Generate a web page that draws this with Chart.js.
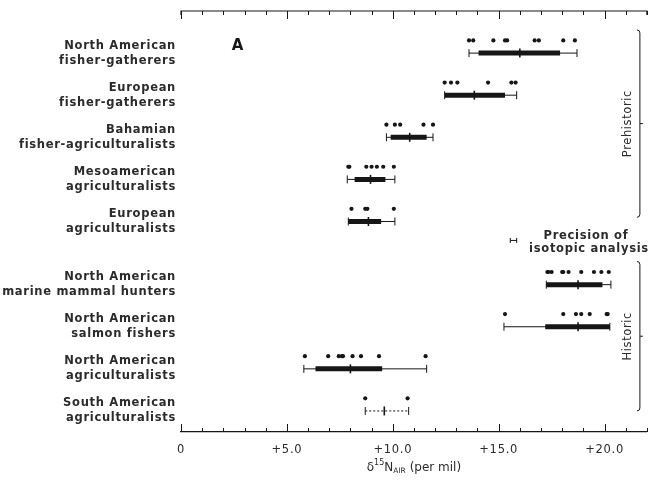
<!DOCTYPE html>
<html>
<head>
<meta charset="utf-8">
<script src="https://cdn.jsdelivr.net/npm/chart.js@4"></script>
<style>
  html, body { margin: 0; padding: 0; background: #fff; overflow: hidden; }
  /* a little wider than the page: the layout keeps a few px of slack on the right */
  #wrap { width: 653px; height: 484px; position: relative; }
  canvas { display: block; }
</style>
</head>
<body>
<div id="wrap"><canvas id="isoChart"></canvas></div>
<script>
// ---------------------------------------------------------------- data section
var groups = [
    ['North American', 'fisher-gatherers'],
    ['European', 'fisher-gatherers'],
    ['Bahamian', 'fisher-agriculturalists'],
    ['Mesoamerican', 'agriculturalists'],
    ['European', 'agriculturalists'],
    ['North American', 'marine mammal hunters'],
    ['North American', 'salmon fishers'],
    ['North American', 'agriculturalists'],
    ['South American', 'agriculturalists']
];
// individual measurements (dots above each bar)
var individuals = [
    [13.6, 13.8, 14.75, 15.3, 15.4, 16.7, 16.9, 18.05, 18.6],
    [12.45, 12.75, 13.05, 14.5, 15.6, 15.8],
    [9.7, 10.1, 10.35, 11.45, 11.9],
    [7.9, 7.95, 8.75, 9.0, 9.25, 9.55, 10.05],
    [8.05, 8.7, 8.8, 10.05],
    [17.3, 17.35, 17.5, 18.0, 18.05, 18.3, 18.9, 19.5, 19.85, 20.2],
    [15.3, 18.05, 18.65, 18.9, 19.3, 20.1, 20.15],
    [5.85, 6.95, 7.45, 7.6, 7.65, 8.1, 8.5, 9.35, 11.55],
    [8.7, 10.7]
];
var rangeLow  = [13.6, 12.45, 9.7, 7.85, 7.9, 17.25, 15.25, 5.8, 8.7];
var rangeHigh = [18.7, 15.85, 11.9, 10.1, 10.1, 20.3, 20.25, 11.6, 10.75];
var boxLow    = [14.05, 12.45, 9.9, 8.2, 7.9, 17.25, 17.2, 6.35, null];
var boxHigh   = [17.9, 15.3, 11.6, 9.65, 9.45, 19.9, 20.25, 9.5, null];
var means     = [16.0, 13.85, 10.8, 8.95, 8.85, 18.75, 18.75, 8.0, 9.6];

var periods = ['Prehistoric', 'Historic'];
var precision = [15.55, 15.85];   // analytical precision bar

var xTickLabels = ['0', '+5.0', '+10.0', '+15.0', '+20.0'];

// ---------------------------------------------------------------- helpers
var INK = '#161616';
var TEXT = '#2b2b2b';
var FONT = "'DejaVu Sans', sans-serif";

// rows of the historic block sit half a row lower than the prehistoric ones
function rowAt(i) { return i < 5 ? i : i + 0.5; }
var DOT_OFFSET = 0.3;

function segments(lows, highs, keep) {
    var out = [];
    for (var i = 0; i < lows.length; i++) {
        if (lows[i] == null || !keep(i)) continue;
        out.push({x: lows[i], y: rowAt(i)}, {x: highs[i], y: rowAt(i)}, {x: null, y: null});
    }
    return out;
}

var whiskerSolid = segments(rangeLow, rangeHigh, function (i) { return boxLow[i] != null; });
var whiskerDotted = segments(rangeLow, rangeHigh, function (i) { return boxLow[i] == null; });
var boxes = segments(boxLow, boxHigh, function () { return true; });

var caps = [];
var meanPts = [];
var dots = [];
for (var i = 0; i < groups.length; i++) {
    caps.push({x: rangeLow[i], y: rowAt(i)}, {x: rangeHigh[i], y: rowAt(i)});
    meanPts.push({x: means[i], y: rowAt(i)});
    individuals[i].forEach(function (v) { dots.push({x: v, y: rowAt(i) - DOT_OFFSET}); });
}
var precRow = 4.45;
var precLine = [{x: precision[0], y: precRow}, {x: precision[1], y: precRow}];

// ---------------------------------------------------------------- decorations
const frame = {
    id: 'frame',
    beforeDraw(chart) {
        chart.ctx.letterSpacing = '0.7px';
    },
    afterDraw(chart) {
        const ctx = chart.ctx;
        const a = chart.chartArea;
        const xs = chart.scales.x;
        const ys = chart.scales.y;
        ctx.save();
        ctx.letterSpacing = '0px';
        ctx.strokeStyle = INK;
        ctx.lineWidth = 1.2;

        // top axis line with turned-down ends
        ctx.beginPath();
        ctx.moveTo(a.left, a.top + 4);
        ctx.lineTo(a.left, a.top);
        ctx.lineTo(a.right, a.top);
        ctx.lineTo(a.right, a.top + 4);
        ctx.stroke();

        // inward ticks on both axes
        ctx.lineWidth = 1;
        for (let v = 0; v <= 22; v++) {
            const px = Math.round(xs.getPixelForValue(v)) + 0.5;
            const len = v % 5 === 0 ? 8 : 4;
            ctx.beginPath();
            ctx.moveTo(px, a.bottom);
            ctx.lineTo(px, a.bottom - len);
            ctx.moveTo(px, a.top);
            ctx.lineTo(px, a.top + len);
            ctx.stroke();
        }

        // axis title: delta 15 N sub AIR (per mil)
        const parts = [
            {t: '\u03B4', f: '12px ', dy: 0},
            {t: '15', f: '8px ', dy: -5},
            {t: 'N', f: '12px ', dy: 0},
            {t: 'AIR', f: '7.5px ', dy: 3},
            {t: ' (per mil)', f: '12px ', dy: 0}
        ];
        let w = 0;
        parts.forEach(p => { ctx.font = p.f + FONT; p.w = ctx.measureText(p.t).width; w += p.w; });
        let tx = (a.left + a.right) / 2 - w / 2;
        const ty = 468;
        ctx.fillStyle = TEXT;
        ctx.textBaseline = 'middle';
        ctx.textAlign = 'left';
        parts.forEach(p => { ctx.font = p.f + FONT; ctx.fillText(p.t, tx, ty + p.dy); tx += p.w; });

        // panel letter
        ctx.font = 'bold 15px ' + FONT;
        ctx.fillStyle = INK;
        ctx.fillText('A', xs.getPixelForValue(2.4), 46);

        // period brackets on the right
        const bx = a.right - 7;
        const spans = [[-0.55, 3.9], [4.95, 8.5]];
        ctx.lineWidth = 1;
        spans.forEach((s, k) => {
            const y0 = ys.getPixelForValue(s[0]);
            const y1 = ys.getPixelForValue(s[1]);
            const ym = (y0 + y1) / 2;
            ctx.beginPath();
            ctx.moveTo(bx - 3, y0);
            ctx.quadraticCurveTo(bx, y0, bx, y0 + 3);
            ctx.lineTo(bx, y1 - 3);
            ctx.quadraticCurveTo(bx, y1, bx - 3, y1);
            ctx.moveTo(bx, ym);
            ctx.lineTo(bx + 3, ym);
            ctx.stroke();
            ctx.save();
            ctx.translate(bx - 12, ym);
            ctx.rotate(-Math.PI / 2);
            ctx.font = '11.5px ' + FONT;
            ctx.letterSpacing = '0.6px';
            ctx.fillStyle = TEXT;
            ctx.textAlign = 'center';
            ctx.fillText(periods[k], 0, 0);
            ctx.restore();
        });

        // precision note
        ctx.font = 'bold 11.5px ' + FONT;
        ctx.letterSpacing = '0.7px';
        ctx.fillStyle = TEXT;
        ctx.textAlign = 'center';
        ctx.fillText('Precision of', 586, 236);
        ctx.fillText('isotopic analysis', 589, 249);
        ctx.restore();
    }
};

// ---------------------------------------------------------------- chart
const ctx = document.getElementById('isoChart').getContext('2d');
const isoChart = new Chart(ctx, {
    type: 'scatter',
    data: {
        datasets: [
            {   // individual samples
                data: dots,
                pointStyle: 'circle',
                pointRadius: 2.1,
                backgroundColor: INK,
                borderColor: INK,
                borderWidth: 0
            },
            {   // means
                data: meanPts,
                pointStyle: 'line',
                rotation: 90,
                pointRadius: 4.5,
                borderColor: INK,
                borderWidth: 1.6
            },
            {   // end caps
                data: caps,
                pointStyle: 'line',
                rotation: 90,
                pointRadius: 4,
                borderColor: INK,
                borderWidth: 1
            },
            {   // central bars
                data: boxes,
                showLine: true,
                spanGaps: false,
                pointRadius: 0,
                borderColor: INK,
                borderWidth: 5,
                borderCapStyle: 'butt'
            },
            {   // full ranges
                data: whiskerSolid,
                showLine: true,
                spanGaps: false,
                pointRadius: 0,
                borderColor: INK,
                borderWidth: 1
            },
            {
                data: whiskerDotted,
                showLine: true,
                spanGaps: false,
                pointRadius: 0,
                borderColor: INK,
                borderWidth: 1,
                borderDash: [2, 2]
            },
            {   // precision of analysis
                data: precLine,
                showLine: true,
                pointStyle: 'line',
                rotation: 90,
                pointRadius: 2.5,
                borderColor: INK,
                borderWidth: 1
            }
        ]
    },
    options: {
        responsive: true,
        maintainAspectRatio: false,
        animation: false,
        layout: { padding: { top: 11, right: 2, left: 0, bottom: 0 } },
        plugins: {
            legend: { display: false },
            tooltip: { enabled: false }
        },
        scales: {
            x: {
                type: 'linear',
                position: 'bottom',
                min: 0,
                max: 22,
                grid: { drawOnChartArea: false, drawTicks: false },
                border: { display: true, color: INK, width: 1.2 },
                ticks: {
                    stepSize: 1,
                    autoSkip: false,
                    maxRotation: 0,
                    padding: 11,
                    color: TEXT,
                    font: { family: FONT, size: 11.5 },
                    callback: function (v) { return v % 5 === 0 ? xTickLabels[v / 5] : ''; }
                },
                afterFit: function (s) {
                    s.height = 52;
                    s.paddingLeft = 0;
                    s.paddingRight = 0;
                }
            },
            y: {
                type: 'linear',
                reverse: true,
                min: -1,
                max: 9,
                grid: { display: false, drawTicks: false },
                border: { display: false },
                afterBuildTicks: function (s) {
                    s.ticks = groups.map(function (g, i) { return {value: rowAt(i)}; });
                },
                ticks: {
                    padding: 5,
                    color: TEXT,
                    font: { family: FONT, size: 11.5, weight: 'bold', lineHeight: 1.3 },
                    callback: function (v, i) { return groups[i]; }
                },
                afterFit: function (s) {
                    s.width = 181;
                    s.paddingTop = 0;
                    s.paddingBottom = 0;
                }
            }
        }
    },
    plugins: [frame]
});
</script>
</body>
</html>
